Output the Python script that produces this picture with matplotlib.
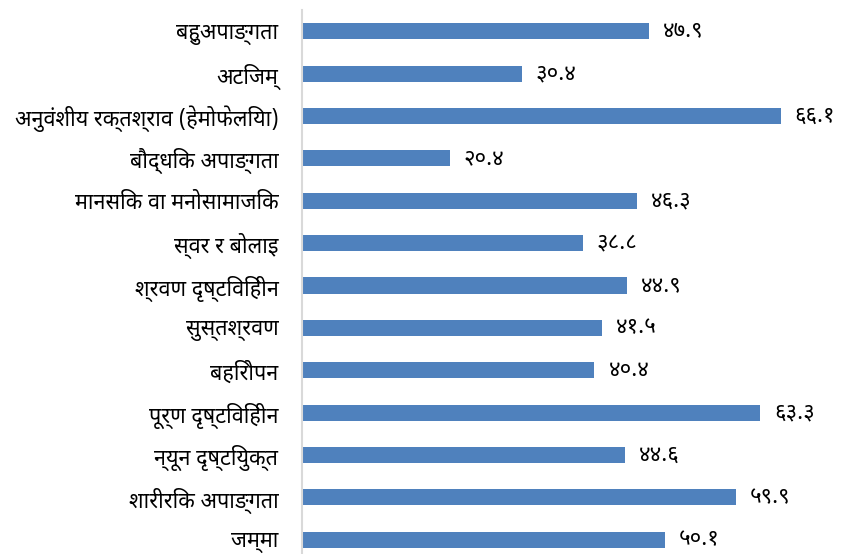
import matplotlib
matplotlib.use('Agg')
import matplotlib.pyplot as plt
from matplotlib import font_manager
from fontTools.ttLib import TTFont

categories = [
    "बहुअपाङ्गता",
    "अटिजम्",
    "अनुवंशीय रक्तश्राव (हेमोफेलिया)",
    "बौद्धिक अपाङ्गता",
    "मानसिक वा मनोसामाजिक",
    "स्वर र बोलाइ",
    "श्रवण दृष्टिविहीन",
    "सुस्तश्रवण",
    "बहिरोपन",
    "पूर्ण दृष्टिविहीन",
    "न्यून दृष्टियुक्त",
    "शारीरिक अपाङ्गता",
    "जम्मा",
]
values = [47.9, 30.4, 66.1, 20.4, 46.3, 38.8, 44.9, 41.5, 40.4, 63.3, 44.6, 59.9, 50.1]

dev_digits = str.maketrans("0123456789", "०१२३४५६७८९")

preferred = ['Noto Sans Devanagari', 'Noto Serif Devanagari', 'Hind', 'Mukta',
             'Tiro Devanagari Hindi', 'Martel', 'Annapurna SIL', 'Ek Mukta']


def find_devanagari_font():
    names = {f.name for f in font_manager.fontManager.ttflist}
    for p in preferred:
        if p in names:
            return p
    for f in font_manager.fontManager.ttflist:
        try:
            cmap = TTFont(f.fname, fontNumber=0, lazy=True).getBestCmap()
            if cmap and 0x0915 in cmap and 0x0967 in cmap:
                return f.name
        except Exception:
            continue
    return None


dev = find_devanagari_font()
plt.rcParams['font.family'] = ([dev] if dev else []) + ['DejaVu Sans']

fig = plt.figure(figsize=(8.45, 5.54), dpi=100)
ax = fig.add_axes([302 / 845, -7 / 554, 543 / 845, 551 / 554])

y = list(range(len(categories)))
ax.barh(y, values, height=0.38, color='#4F81BD')
ax.set_yticks(y)
ax.set_yticklabels(categories, fontsize=15.5)
ax.set_ylim(len(categories) - 0.5, -0.5)
ax.set_xlim(0, 75)
ax.tick_params(axis='y', length=0, pad=17)
ax.set_xticks([])
for s in ['top', 'right', 'bottom']:
    ax.spines[s].set_visible(False)
ax.spines['left'].set_color('#D9D9D9')
ax.spines['left'].set_linewidth(1.5)

for yi, v in zip(y, values):
    ax.annotate(f"{v:.1f}".translate(dev_digits), (v, yi), xytext=(10, 0),
                textcoords='offset points', va='center', ha='left', fontsize=16)

fig.savefig('out.png', dpi=100)
